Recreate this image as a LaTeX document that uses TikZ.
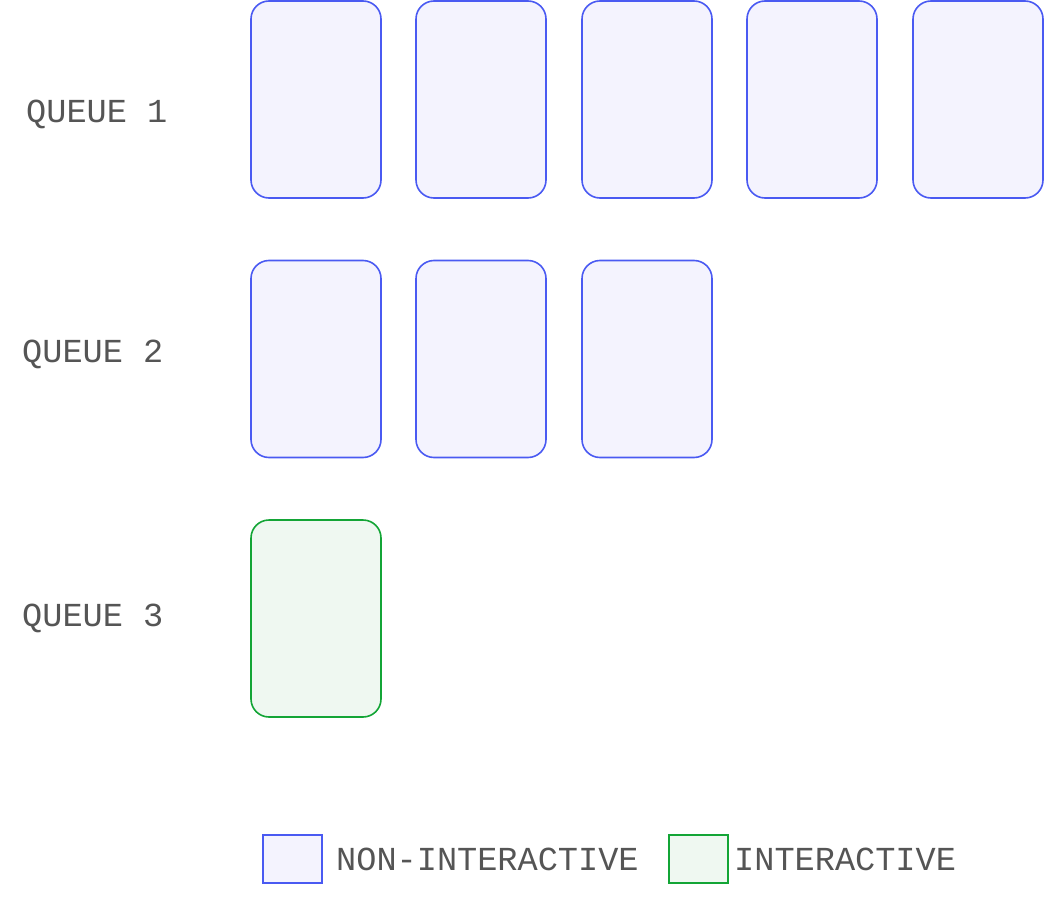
\documentclass[tikz,border=0pt]{standalone}
\usepackage{fontspec}
\setmonofont{Liberation Mono}
\usetikzlibrary{positioning}
\definecolor{QBlue}{HTML}{4A5AF2}
\definecolor{QBlueFill}{HTML}{F4F3FE}
\definecolor{QGreen}{HTML}{13A536}
\definecolor{QGreenFill}{HTML}{EFF8F1}
\definecolor{QInk}{HTML}{555555}
\tikzset{
  job/.style={draw=QBlue,line width=1.6pt,fill=QBlueFill,rounded corners=18pt,
              minimum width=130pt,minimum height=197pt,inner sep=0pt},
  jobgreen/.style={job,draw=QGreen,fill=QGreenFill},
  swatch/.style={draw=QBlue,line width=1.6pt,fill=QBlueFill,
                 minimum width=59pt,minimum height=48pt,inner sep=0pt},
  swatchgreen/.style={swatch,draw=QGreen,fill=QGreenFill},
  qlabel/.style={text=QInk,font=\ttfamily\fontsize{33.6}{38}\selectfont,inner sep=0pt,anchor=base west},
}
\begin{document}
\begin{tikzpicture}[x=1pt,y=-1pt]
    \useasboundingbox (0,0) rectangle (1044,899);
    % queue labels
    \node[qlabel] (q1) at (26,122.5) {QUEUE 1};
    \node[qlabel] (q2) at (22,362.5) {QUEUE 2};
    \node[qlabel] (q3) at (22,626.5) {QUEUE 3};

    % queue 1: five non-interactive jobs
    \node[job] (a1) at (316,99.5) {};
    \node[job] (a2) at (481,99.5) {};
    \node[job] (a3) at (647,99.5) {};
    \node[job] (a4) at (812,99.5) {};
    \node[job] (a5) at (978,99.5) {};

    % queue 2: three non-interactive jobs
    \node[job] (b1) at (316,359) {};
    \node[job] (b2) at (481,359) {};
    \node[job] (b3) at (647,359) {};

    % queue 3: one interactive job
    \node[jobgreen] (c1) at (316,618.5) {};

    % legend
    \node[swatch] (keyblue) at (292.5,859) {};
    \node[qlabel] (keybluetext) at (336,870.5) {NON-INTERACTIVE};
    \node[swatchgreen] (keygreen) at (698.5,859) {};
    \node[qlabel] (keygreentext) at (734,870.5) {INTERACTIVE};
\end{tikzpicture}
\end{document}
